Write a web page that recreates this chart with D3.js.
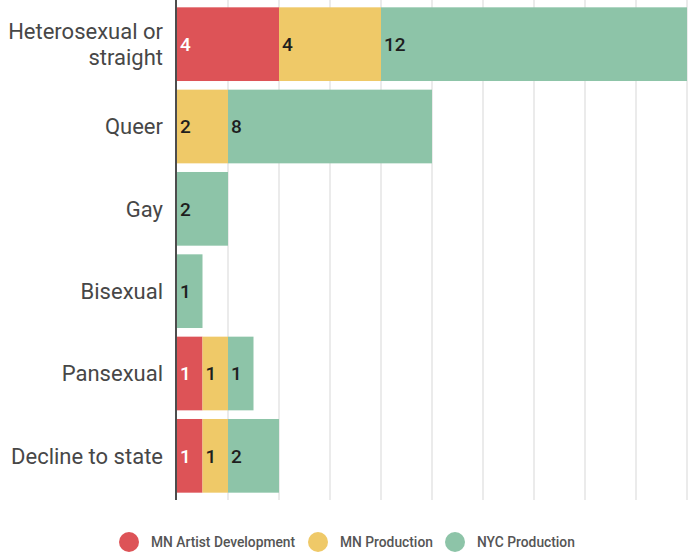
<!DOCTYPE html>
<html>
<head>
<meta charset="utf-8">
<script src="https://cdn.jsdelivr.net/npm/d3@7/dist/d3.min.js"></script>
<style>
  html, body { margin: 0; padding: 0; background: #fff; }
  svg { display: block; font-family: Roboto, "Noto Sans", sans-serif; }
</style>
</head>
<body>
<svg id="chart" width="695" height="560"></svg>
<script>
// Responses by sexual orientation, split by program
const categories = ["Heterosexual or straight", "Queer", "Gay", "Bisexual", "Pansexual", "Decline to state"];
const seriesNames = ["MN Artist Development", "MN Production", "NYC Production"];
const mnArtistDevelopment = [4, 0, 0, 0, 1, 1];
const mnProduction = [4, 2, 0, 0, 1, 1];
const nycProduction = [12, 8, 2, 1, 1, 2];
const seriesColors = ["#dd5357", "#efc968", "#8dc4a8"];
const labelColors = ["#ffffff", "#1e1e1e", "#1e1e1e"];
const xTicks = [0, 2, 4, 6, 8, 10, 12, 14, 16, 18, 20];

const svg = d3.select("#chart");
const left = 177, right = 687;

const rows = categories.map((c, i) => ({
  category: c,
  [seriesNames[0]]: mnArtistDevelopment[i],
  [seriesNames[1]]: mnProduction[i],
  [seriesNames[2]]: nycProduction[i]
}));
const stacked = d3.stack().keys(seriesNames)(rows);

const x = d3.scaleLinear().domain([0, 20]).range([left, right]);
const y = d3.scaleBand().domain(categories).range([3, 497]).paddingInner(0.105).paddingOuter(0.0525);

// vertical gridlines
svg.append("g")
  .selectAll("line")
  .data(xTicks.slice(1))
  .join("line")
  .attr("x1", d => x(d)).attr("x2", d => x(d))
  .attr("y1", 0).attr("y2", 500)
  .attr("stroke", "#e5e5e5")
  .attr("stroke-width", 1.5);

// stacked bars
const layer = svg.append("g")
  .selectAll("g")
  .data(stacked)
  .join("g")
  .attr("fill", (d, i) => seriesColors[i]);

layer.selectAll("rect")
  .data(d => d.filter(s => s[1] - s[0] > 0))
  .join("rect")
  .attr("x", d => x(d[0]))
  .attr("y", d => y(d.data.category))
  .attr("width", d => x(d[1]) - x(d[0]))
  .attr("height", y.bandwidth());

// value labels at the start of each segment
stacked.forEach((s, si) => {
  svg.append("g")
    .selectAll("text")
    .data(s.filter(d => d[1] - d[0] > 0))
    .join("text")
    .attr("x", d => x(d[0]) + 3)
    .attr("y", d => y(d.data.category) + y.bandwidth() / 2)
    .attr("dy", "0.36em")
    .attr("fill", labelColors[si])
    .attr("font-size", 19)
    .attr("font-weight", 500)
    .text(d => d[1] - d[0]);
});

// category axis line
svg.append("line")
  .attr("x1", left - 1).attr("x2", left - 1)
  .attr("y1", 0).attr("y2", 500)
  .attr("stroke", "#4d4d4d")
  .attr("stroke-width", 2);

// category labels, wrapped where needed
const wrapped = { "Heterosexual or straight": ["Heterosexual or", "straight"] };
svg.append("g")
  .selectAll("text")
  .data(categories)
  .join("text")
  .attr("text-anchor", "end")
  .attr("fill", "#474747")
  .attr("font-size", 22)
  .attr("font-weight", 400)
  .each(function (c) {
    const lines = wrapped[c] || [c];
    const cy = y(c) + y.bandwidth() / 2;
    const lh = 26;
    d3.select(this).selectAll("tspan")
      .data(lines)
      .join("tspan")
      .attr("x", 163)
      .attr("y", (d, i) => cy + (i - (lines.length - 1) / 2) * lh)
      .attr("dy", "0.36em")
      .text(d => d);
  });

// legend
const legendX = [129, 318, 455];
const legend = svg.append("g")
  .selectAll("g")
  .data(seriesNames)
  .join("g")
  .attr("transform", (d, i) => `translate(${legendX[i]},542)`);
legend.append("circle")
  .attr("r", 10)
  .attr("fill", (d, i) => seriesColors[i]);
legend.append("text")
  .attr("x", 22)
  .attr("dy", "0.36em")
  .attr("fill", "#555")
  .attr("font-size", 13.8)
  .attr("font-weight", 500)
  .text(d => d);
</script>
</body>
</html>
